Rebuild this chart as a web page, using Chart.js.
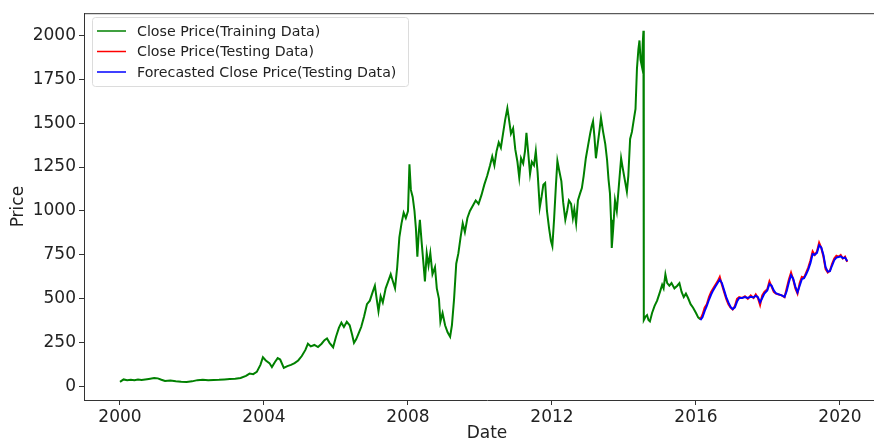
<!DOCTYPE html>
<html>
<head>
<meta charset="utf-8">
<script src="https://cdn.jsdelivr.net/npm/chart.js@4"></script>
<style>
  html, body { margin: 0; background: #fff; overflow: hidden; width: 874px; height: 444px; }
  canvas { display: block; }
</style>
</head>
<body>
<canvas id="Chart_price" width="890" height="444"></canvas>
<script>
// 학습 구간 (training)
var trainYears = [2000.00,2000.05,2000.10,2000.20,2000.30,2000.40,2000.50,2000.60,2000.70,2000.80,2000.95,2001.05,2001.15,2001.25,2001.40,2001.55,2001.70,2001.85,2002.00,2002.15,2002.30,2002.45,2002.60,2002.75,2002.90,2003.05,2003.20,2003.35,2003.50,2003.60,2003.70,2003.80,2003.90,2003.97,2004.05,2004.15,2004.22,2004.30,2004.38,2004.45,2004.55,2004.65,2004.75,2004.85,2004.95,2005.05,2005.15,2005.22,2005.30,2005.40,2005.50,2005.60,2005.68,2005.75,2005.82,2005.92,2006.00,2006.08,2006.15,2006.22,2006.30,2006.38,2006.45,2006.50,2006.56,2006.62,2006.70,2006.78,2006.86,2006.94,2007.02,2007.08,2007.13,2007.18,2007.24,2007.30,2007.38,2007.45,2007.52,2007.58,2007.64,2007.70,2007.76,2007.82,2007.88,2007.94,2008.00,2008.04,2008.08,2008.13,2008.18,2008.22,2008.26,2008.30,2008.33,2008.38,2008.43,2008.47,2008.52,2008.57,2008.62,2008.68,2008.75,2008.80,2008.86,2008.90,2008.96,2009.03,2009.10,2009.17,2009.22,2009.28,2009.34,2009.40,2009.46,2009.52,2009.58,2009.65,2009.72,2009.80,2009.88,2009.96,2010.04,2010.12,2010.20,2010.28,2010.34,2010.40,2010.46,2010.52,2010.58,2010.64,2010.70,2010.76,2010.80,2010.86,2010.92,2010.98,2011.04,2011.09,2011.14,2011.20,2011.25,2011.29,2011.34,2011.39,2011.44,2011.50,2011.55,2011.60,2011.66,2011.71,2011.76,2011.81,2011.86,2011.92,2011.97,2012.01,2012.06,2012.11,2012.15,2012.20,2012.26,2012.31,2012.37,2012.42,2012.47,2012.53,2012.58,2012.62,2012.67,2012.72,2012.78,2012.83,2012.88,2012.94,2013.00,2013.06,2013.10,2013.14,2013.18,2013.22,2013.27,2013.32,2013.36,2013.42,2013.48,2013.53,2013.57,2013.61,2013.64,2013.66,2013.70,2013.75,2013.80,2013.86,2013.92,2013.96,2014.02,2014.08,2014.12,2014.17,2014.22,2014.28,2014.32,2014.36,2014.40,2014.43,2014.46,2014.50,2014.52,2014.54,2014.55,2014.60,2014.64,2014.68,2014.72,2014.78,2014.85,2014.92,2015.00,2015.06,2015.10,2015.15,2015.20,2015.26,2015.32,2015.40,2015.48,2015.54,2015.60,2015.66,2015.72,2015.78,2015.85,2015.92,2016.00,2016.06,2016.12];
var trainClose = [28,35,42,38,40,37,41,39,42,45,50,48,40,33,36,32,29,28,31,38,40,37,39,40,42,44,46,50,62,75,72,85,125,168,150,135,112,140,163,155,108,118,125,135,150,175,210,245,230,238,226,245,265,275,250,225,285,335,365,340,370,350,295,250,270,300,340,400,470,490,540,575,500,430,515,480,560,600,640,600,560,680,850,930,990,960,1000,1265,1120,1080,1000,900,740,880,950,820,700,600,760,690,760,640,680,560,500,370,420,350,310,285,350,500,700,760,850,930,880,960,1000,1030,1060,1040,1090,1150,1200,1260,1310,1260,1340,1390,1360,1440,1520,1585,1530,1440,1470,1350,1280,1190,1300,1270,1340,1445,1330,1210,1280,1260,1340,1220,1020,1080,1150,1160,1000,900,830,800,960,1150,1285,1230,1170,1050,950,1000,1060,1040,960,1010,930,1060,1100,1130,1200,1300,1370,1440,1480,1510,1420,1300,1380,1460,1530,1450,1380,1290,1180,1100,950,790,900,1060,1000,1150,1300,1250,1180,1110,1200,1410,1450,1530,1580,1810,1920,1970,1860,1820,1950,2025,380,400,408,380,372,420,460,490,540,580,560,640,590,575,590,560,575,590,540,510,530,505,470,450,420,395,385];

// 테스트 구간 (testing / forecast)
var testYears = [2016.12,2016.18,2016.24,2016.30,2016.36,2016.42,2016.48,2016.54,2016.60,2016.66,2016.72,2016.78,2016.84,2016.90,2016.96,2017.02,2017.08,2017.14,2017.20,2017.28,2017.36,2017.44,2017.52,2017.60,2017.66,2017.72,2017.78,2017.84,2017.90,2017.98,2018.04,2018.10,2018.16,2018.22,2018.30,2018.38,2018.46,2018.52,2018.58,2018.64,2018.70,2018.76,2018.82,2018.88,2018.94,2019.00,2019.06,2019.12,2019.18,2019.24,2019.30,2019.36,2019.42,2019.48,2019.54,2019.60,2019.66,2019.72,2019.78,2019.84,2019.90,2019.96,2020.02,2020.08,2020.14,2020.20];
var testClose = [385,410,450,470,510,540,560,580,600,625,580,540,500,470,450,440,460,500,510,505,515,500,520,505,525,505,465,520,540,555,600,570,540,530,525,520,510,560,610,650,610,560,530,590,625,620,650,680,720,770,750,770,820,790,740,670,650,660,700,730,745,740,750,730,740,710];
var forecastClose = [380,395,430,460,495,525,550,570,590,610,590,550,510,480,455,442,452,485,505,505,510,505,512,508,518,510,480,505,530,548,585,575,548,532,526,520,512,545,595,635,615,570,538,575,612,618,640,668,705,755,752,762,805,792,750,680,655,658,690,720,735,738,742,732,735,715];

var yearTicks = [2000, 2004, 2008, 2012, 2016, 2020];
var priceTicks = [0, 250, 500, 750, 1000, 1250, 1500, 1750, 2000];

function toPoints(xs, ys) {
  return xs.map(function (x, i) { return { x: x, y: ys[i] }; });
}

var FONT = "'DejaVu Sans', sans-serif";

// 범례 + 위쪽 테두리
const boxLegend = {
  id: "boxLegend",
  afterDraw: function (chart) {
    const c = chart.ctx;
    const area = chart.chartArea;
    c.save();
    c.strokeStyle = "#333";
    c.lineWidth = 1;
    c.beginPath();
    c.moveTo(area.left, area.top + 0.5);
    c.lineTo(area.right, area.top + 0.5);
    c.stroke();

    const x0 = 92, y0 = 17, w = 316, h = 69, r = 3;
    c.fillStyle = "rgba(255,255,255,0.8)";
    c.strokeStyle = "#dcdcdc";
    c.beginPath();
    c.roundRect(x0 + 0.5, y0 + 0.5, w, h, r);
    c.fill();
    c.stroke();

    c.font = "14.2px " + FONT;
    c.textBaseline = "middle";
    c.fillStyle = "#222";
    chart.data.datasets.forEach(function (ds, i) {
      const y = 31 + i * 20.5;
      c.strokeStyle = ds.borderColor;
      c.lineWidth = 1.5;
      c.beginPath();
      c.moveTo(97, y);
      c.lineTo(126, y);
      c.stroke();
      c.fillText(ds.label, 137, y + 1);
    });
    c.restore();
  }
};

const ctx1 = document.getElementById("Chart_price").getContext("2d");
Chart_price = new Chart(ctx1, {
  type: "line",
  data: {
    datasets: [
      {
        label: "Close Price(Training Data)",
        data: toPoints(trainYears, trainClose),
        borderColor: "#008000",
        order: 2,
      },
      {
        label: "Close Price(Testing Data)",
        data: toPoints(testYears, testClose),
        borderColor: "#ff0000",
        order: 1,
      },
      {
        label: "Forecasted Close Price(Testing Data)",
        data: toPoints(testYears, forecastClose),
        borderColor: "#0000ff",
        order: 0,
      },
    ],
  },
  options: {
    responsive: false,
    animation: false,
    layout: { padding: { top: 12, left: 0, right: 0, bottom: 0 } },
    elements: {
      point: { radius: 0 },
      line: { borderWidth: 2, tension: 0 },
    },
    plugins: { legend: { display: false }, tooltip: { enabled: false } },
    scales: {
      x: {
        type: "linear",
        min: 1999,
        max: 2021.389,
        afterFit: function (s) { s.height = 44; },
        afterBuildTicks: function (s) { s.ticks = yearTicks.map(function (v) { return { value: v }; }); },
        grid: { drawOnChartArea: false, tickLength: 5, color: "#333" },
        border: { color: "#333", width: 1 },
        ticks: {
          color: "#222",
          padding: 2,
          maxRotation: 0,
          font: { family: FONT, size: 17 },
          callback: function (v) { return String(v); },
        },
        title: {
          display: true,
          text: "Date",
          color: "#222",
          font: { family: FONT, size: 17 },
          padding: { top: 0, bottom: 0 },
        },
      },
      y: {
        min: -75,
        max: 2125,
        afterFit: function (s) { s.width = 84; },
        afterBuildTicks: function (s) { s.ticks = priceTicks.map(function (v) { return { value: v }; }); },
        grid: { drawOnChartArea: false, tickLength: 5, color: "#333" },
        border: { color: "#333", width: 1 },
        ticks: {
          color: "#222",
          padding: 3,
          font: { family: FONT, size: 17 },
          callback: function (v) { return String(v); },
        },
        title: {
          display: true,
          text: "Price",
          color: "#222",
          font: { family: FONT, size: 17 },
          padding: { top: 8, bottom: 0 },
        },
      },
    },
  },
  plugins: [boxLegend],
});
</script>
</body>
</html>
